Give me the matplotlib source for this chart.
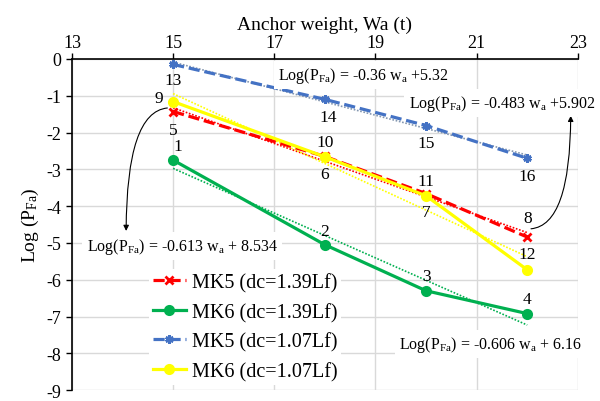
#! /usr/bin/env python3
"""Log(PFa) against anchor weight for the MK5 / MK6 anchors."""

import numpy as np
import matplotlib
matplotlib.use("Agg")
import matplotlib.pyplot as plt

plt.rcParams['font.family'] = ['Liberation Serif', 'DejaVu Serif']
plt.rcParams['mathtext.fontset'] = 'custom'
plt.rcParams['mathtext.rm'] = 'Liberation Serif'
plt.rcParams['mathtext.it'] = 'Liberation Serif:italic'

# data
weights = [15, 18, 20, 22]
mk5_139 = [-1.43, -2.65, -3.66, -4.84]
mk6_139 = [-2.75, -5.05, -6.30, -6.92]
mk5_107 = [-0.15, -1.10, -1.81, -2.70]
mk6_107 = [-1.16, -2.66, -3.72, -5.73]

series_names = ["MK5 (dc=1.39Lf)", "MK6 (dc=1.39Lf)",
                "MK5 (dc=1.07Lf)", "MK6 (dc=1.07Lf)"]
point_ids = [[5, 6, 7, 8], [1, 2, 3, 4], [13, 14, 15, 16], [9, 10, 11, 12]]
equations = ["Log(P$_{\\mathrm{Fa}}$) = -0.483 w$_{\\mathrm{a}}$ +5.902",
             "Log(P$_{\\mathrm{Fa}}$) = -0.606 w$_{\\mathrm{a}}$ + 6.16",
             "Log(P$_{\\mathrm{Fa}}$) = -0.36 w$_{\\mathrm{a}}$ +5.32",
             "Log(P$_{\\mathrm{Fa}}$) = -0.613 w$_{\\mathrm{a}}$ + 8.534"]

# styles
colors = ['#FF0000', '#00B050', '#4472C4', '#FFFF00']
trend_colors = ['#FF0000', '#00B050', '#8497B0', '#FFFF00']
lstyles = [(0, (3.5, 1.5)), '-', (0, (3.5, 1.5)), '-']
markers = ['x', 'o', (6, 2, 0), 'o']
# label offsets in pixels
label_offsets = [
    [(0, -18), (0, -18), (0, -18), (0, 19)],
    [(5, 14), (0, 14), (0, 15), (0, 15)],
    [(0, -16), (3, -18), (0, -17), (0, -18)],
    [(-14, 4), (0, 15), (0, 15), (0, 16)],
]
eq_pos = [(21.5, -1.19), (21.28, -7.75), (18.76, -0.44), (15.18, -5.08)]

fig = plt.figure(figsize=(6.0, 4.02), dpi=100)
ax = fig.add_axes([0.12, 0.027, 0.843, 0.824])

x = np.array(weights, dtype=float)
for i, ys in enumerate([mk5_139, mk6_139, mk5_107, mk6_107]):
    ys = np.array(ys)
    ax.plot(x, ys, color=colors[i], linestyle=lstyles[i], linewidth=2.3,
            marker=markers[i], markersize=6, markeredgewidth=2,
            label=series_names[i], zorder=3)
    k, b = np.polyfit(x, ys, 1)
    ax.plot([x[0], x[-1]], [k * x[0] + b, k * x[-1] + b],
            color=trend_colors[i], linestyle=(0, (1, 1)), linewidth=1.2,
            zorder=2)
    for j in range(len(x)):
        ax.annotate(str(point_ids[i][j]), (x[j], ys[j]),
                    xytext=label_offsets[i][j], textcoords='offset pixels',
                    ha='center', va='center', fontsize=12.5, zorder=4)
    ax.text(eq_pos[i][0], eq_pos[i][1], equations[i], fontsize=11.5,
            ha='center', va='center', zorder=5,
            bbox=dict(facecolor='white', edgecolor='none', pad=3))

# curved pointers from the series to their equations
ax.annotate("", xy=(14.07, -4.75), xytext=(14.94, -1.33),
            arrowprops=dict(arrowstyle='-|>', color='black', lw=0.8,
                            mutation_scale=8,
                            connectionstyle='angle3,angleA=180,angleB=90'))
ax.annotate("", xy=(22.86, -1.47), xytext=(22.02, -4.62),
            arrowprops=dict(arrowstyle='-|>', color='black', lw=0.8,
                            mutation_scale=8,
                            connectionstyle='angle3,angleA=0,angleB=90'))

ax.set_xlim(13, 23)
ax.set_ylim(-9, 0)
ax.set_xticks(range(13, 24, 2))
ax.set_yticks(range(-9, 1))
ax.set_yticklabels([str(v) for v in range(-9, 1)])
ax.xaxis.tick_top()
ax.xaxis.set_label_position('top')
ax.tick_params(axis='both', labelsize=13, direction='out', length=4,
               width=1)
ax.tick_params(axis='x', pad=2)
ax.set_xlabel("Anchor weight, Wa (t)", fontsize=14, labelpad=3)
ax.set_ylabel("Log (P$_{\\mathrm{Fa}}$)", fontsize=14, labelpad=4)
ax.grid(True, color='#D9D9D9', linewidth=1)
ax.set_axisbelow(True)
for side in ['right', 'bottom']:
    ax.spines[side].set_visible(False)
for side in ['left', 'top']:
    ax.spines[side].set_linewidth(1.2)

leg = ax.legend(loc='lower left', bbox_to_anchor=(0.133, -0.015),
                fontsize=14.5, frameon=True, facecolor='white',
                edgecolor='none', framealpha=1, handlelength=1.6,
                handletextpad=0.3, labelspacing=0.5, borderpad=0.2,
                fancybox=False)
leg.set_zorder(6)

fig.savefig("out.png", dpi=100)
